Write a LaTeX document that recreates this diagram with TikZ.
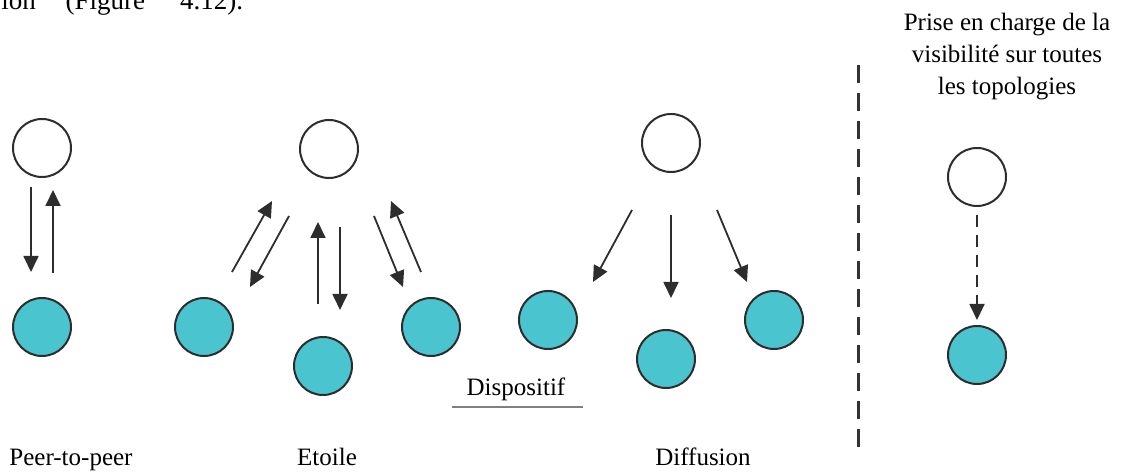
\documentclass[tikz,border=0pt]{standalone}
\usepackage{fontspec}
\setmainfont{Liberation Serif}
\usetikzlibrary{arrows.meta}
\definecolor{devteal}{RGB}{74,196,206}
\definecolor{ink}{RGB}{45,45,45}

\begin{document}
\begin{tikzpicture}[x=0.5pt, y=-0.5pt, font=\fontsize{12.5}{16}\selectfont, line join=round, >={Triangle[length=8pt,width=7.5pt]},
		host/.style={circle, draw=ink, line width=1pt, minimum size=29pt, inner sep=0pt},
		dev/.style={host, fill=devteal},
		arr/.style={->, draw=ink, line width=0.9pt}]
	\useasboundingbox (0,0) rectangle (1125,474);
	% cut-off line of the page text
	\node[anchor=base west, inner sep=0pt, font=\fontsize{13.5}{16}\selectfont] (pagetxt) at (1,10) {ion\hspace{1.1em}(Figure\hspace{1.3em}4.12).};
	% peer-to-peer
	\node[host] (pw) at (42,148) {};
	\node[dev] (pt) at (42,327) {};
	% etoile
	\node[host] (ew) at (329,149) {};
	\node[dev] (el) at (204,327) {};
	\node[dev] (eb) at (323,366) {};
	\node[dev] (er) at (431,327) {};
	% diffusion
	\node[host] (dw) at (671,143) {};
	\node[dev] (dl) at (548,320) {};
	\node[dev] (db) at (666,359) {};
	\node[dev] (dr) at (774,320) {};
	% visibility
	\node[host] (vw) at (977,177) {};
	\node[dev] (vt) at (977,355) {};
	\foreach \a/\sa/\b/\sb in {pw/{-11,39}/pt/{-11,-55}, pt/{11,-54}/pw/{11,42},
			el/{28,-55}/ew/{-57,52}, ew/{-40,67}/el/{46,-40}, eb/{-5,-62}/ew/{-11,73},
			ew/{11,78}/eb/{17,-56}, ew/{45,67}/er/{-28,-40}, er/{-10,-55}/ew/{62,52},
			dw/{-39,67}/dl/{45,-38}, dw/{0,72}/db/{5,-61}, dw/{46,67}/dr/{-27,-38}}
		\draw[arr] ([shift={(\sa)}]\a.center) -- ([shift={(\sb)}]\b.center);
	\draw[arr, dash pattern=on 6pt off 4pt] ([shift={(0,38)}]vw.center) -- ([shift={(0,-35)}]vt.center);
	% separator
	\path (858,65) coordinate (sepT) (858,452) coordinate (sepB);
	\draw[gray!40!black, line width=1.5pt, dash pattern=on 9pt off 5pt] (sepT) -- (sepB);
	% labels
	\node[align=center] (vislbl) at (1007,57) {Prise en charge de la\\visibilit\'e sur toutes\\les topologies};
	\node (disp) at (516,389) {Dispositif};
	\draw[gray, line width=1pt] ([shift={(-64,18)}]disp.center) -- ([shift={(67,18)}]disp.center);
	\foreach \n/\x/\lbl in {lp/71/Peer-to-peer, le/327/Etoile, ld/703/Diffusion}
		\node[anchor=base] (\n) at (\x,466) {\lbl};
\end{tikzpicture}
\end{document}
